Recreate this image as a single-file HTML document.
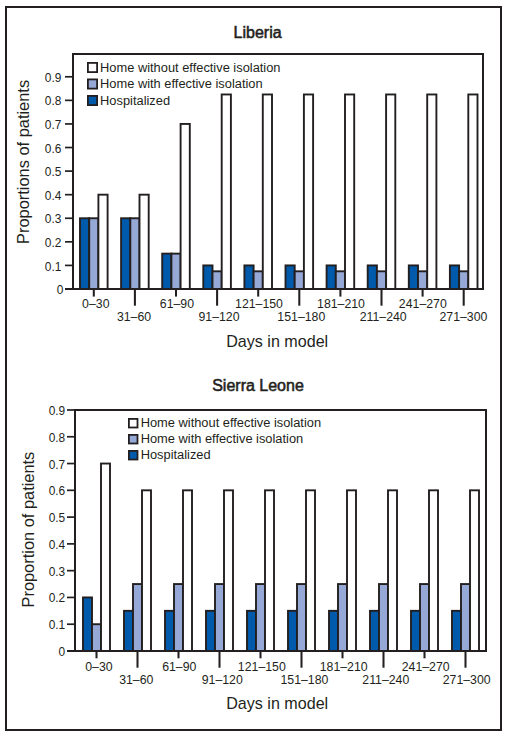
<!DOCTYPE html>
<html><head><meta charset="utf-8"><style>
html,body{margin:0;padding:0;background:#fff;}
svg{display:block;}
text{font-family:"Liberation Sans",sans-serif;fill:#231f20;}
.t{font-size:12.3px;}
.yt{font-size:11.9px;}
.lg{font-size:12.85px;}
.ti{font-size:16px;stroke:#231f20;stroke-width:0.55px;}
.ax{font-size:16.1px;}
.yl{font-size:16.4px;}
</style></head><body>
<svg width="509" height="741" viewBox="0 0 509 741">
<rect x="0" y="0" width="509" height="741" fill="#fff"/>
<rect x="6" y="7" width="495" height="723" fill="none" stroke="#231f20" stroke-width="2"/>
<rect x="80.00" y="218.26" width="9.20" height="70.74" fill="#005aab" stroke="#231f20" stroke-width="1.9"/>
<rect x="89.20" y="218.26" width="9.20" height="70.74" fill="#96a9d6" stroke="#231f20" stroke-width="1.9"/>
<rect x="98.40" y="194.68" width="9.20" height="94.32" fill="#ffffff" stroke="#231f20" stroke-width="1.9"/>
<rect x="121.10" y="218.26" width="9.20" height="70.74" fill="#005aab" stroke="#231f20" stroke-width="1.9"/>
<rect x="130.30" y="218.26" width="9.20" height="70.74" fill="#96a9d6" stroke="#231f20" stroke-width="1.9"/>
<rect x="139.50" y="194.68" width="9.20" height="94.32" fill="#ffffff" stroke="#231f20" stroke-width="1.9"/>
<rect x="162.20" y="253.63" width="9.20" height="35.37" fill="#005aab" stroke="#231f20" stroke-width="1.9"/>
<rect x="171.40" y="253.63" width="9.20" height="35.37" fill="#96a9d6" stroke="#231f20" stroke-width="1.9"/>
<rect x="180.60" y="123.94" width="9.20" height="165.06" fill="#ffffff" stroke="#231f20" stroke-width="1.9"/>
<rect x="203.30" y="265.42" width="9.20" height="23.58" fill="#005aab" stroke="#231f20" stroke-width="1.9"/>
<rect x="212.50" y="271.31" width="9.20" height="17.69" fill="#96a9d6" stroke="#231f20" stroke-width="1.9"/>
<rect x="221.70" y="94.47" width="9.20" height="194.53" fill="#ffffff" stroke="#231f20" stroke-width="1.9"/>
<rect x="244.40" y="265.42" width="9.20" height="23.58" fill="#005aab" stroke="#231f20" stroke-width="1.9"/>
<rect x="253.60" y="271.31" width="9.20" height="17.69" fill="#96a9d6" stroke="#231f20" stroke-width="1.9"/>
<rect x="262.80" y="94.47" width="9.20" height="194.53" fill="#ffffff" stroke="#231f20" stroke-width="1.9"/>
<rect x="285.50" y="265.42" width="9.20" height="23.58" fill="#005aab" stroke="#231f20" stroke-width="1.9"/>
<rect x="294.70" y="271.31" width="9.20" height="17.69" fill="#96a9d6" stroke="#231f20" stroke-width="1.9"/>
<rect x="303.90" y="94.47" width="9.20" height="194.53" fill="#ffffff" stroke="#231f20" stroke-width="1.9"/>
<rect x="326.60" y="265.42" width="9.20" height="23.58" fill="#005aab" stroke="#231f20" stroke-width="1.9"/>
<rect x="335.80" y="271.31" width="9.20" height="17.69" fill="#96a9d6" stroke="#231f20" stroke-width="1.9"/>
<rect x="345.00" y="94.47" width="9.20" height="194.53" fill="#ffffff" stroke="#231f20" stroke-width="1.9"/>
<rect x="367.70" y="265.42" width="9.20" height="23.58" fill="#005aab" stroke="#231f20" stroke-width="1.9"/>
<rect x="376.90" y="271.31" width="9.20" height="17.69" fill="#96a9d6" stroke="#231f20" stroke-width="1.9"/>
<rect x="386.10" y="94.47" width="9.20" height="194.53" fill="#ffffff" stroke="#231f20" stroke-width="1.9"/>
<rect x="408.80" y="265.42" width="9.20" height="23.58" fill="#005aab" stroke="#231f20" stroke-width="1.9"/>
<rect x="418.00" y="271.31" width="9.20" height="17.69" fill="#96a9d6" stroke="#231f20" stroke-width="1.9"/>
<rect x="427.20" y="94.47" width="9.20" height="194.53" fill="#ffffff" stroke="#231f20" stroke-width="1.9"/>
<rect x="449.90" y="265.42" width="9.20" height="23.58" fill="#005aab" stroke="#231f20" stroke-width="1.9"/>
<rect x="459.10" y="271.31" width="9.20" height="17.69" fill="#96a9d6" stroke="#231f20" stroke-width="1.9"/>
<rect x="468.30" y="94.47" width="9.20" height="194.53" fill="#ffffff" stroke="#231f20" stroke-width="1.9"/>
<path d="M73.00,289.00 V54.00 H483.00 V289.00" fill="none" stroke="#231f20" stroke-width="2" stroke-linejoin="miter" stroke-linecap="square"/>
<line x1="65.00" y1="289.00" x2="484.00" y2="289.00" stroke="#231f20" stroke-width="2"/>
<line x1="65.00" y1="289.00" x2="73.00" y2="289.00" stroke="#231f20" stroke-width="1.7"/>
<text x="63.30" y="294.10" text-anchor="end" class="yt">0</text>
<line x1="65.00" y1="265.42" x2="73.00" y2="265.42" stroke="#231f20" stroke-width="1.7"/>
<text x="61.30" y="270.52" text-anchor="end" class="yt">0.1</text>
<line x1="65.00" y1="241.84" x2="73.00" y2="241.84" stroke="#231f20" stroke-width="1.7"/>
<text x="61.30" y="246.94" text-anchor="end" class="yt">0.2</text>
<line x1="65.00" y1="218.26" x2="73.00" y2="218.26" stroke="#231f20" stroke-width="1.7"/>
<text x="61.30" y="223.36" text-anchor="end" class="yt">0.3</text>
<line x1="65.00" y1="194.68" x2="73.00" y2="194.68" stroke="#231f20" stroke-width="1.7"/>
<text x="61.30" y="199.78" text-anchor="end" class="yt">0.4</text>
<line x1="65.00" y1="171.10" x2="73.00" y2="171.10" stroke="#231f20" stroke-width="1.7"/>
<text x="61.30" y="176.20" text-anchor="end" class="yt">0.5</text>
<line x1="65.00" y1="147.52" x2="73.00" y2="147.52" stroke="#231f20" stroke-width="1.7"/>
<text x="61.30" y="152.62" text-anchor="end" class="yt">0.6</text>
<line x1="65.00" y1="123.94" x2="73.00" y2="123.94" stroke="#231f20" stroke-width="1.7"/>
<text x="61.30" y="129.04" text-anchor="end" class="yt">0.7</text>
<line x1="65.00" y1="100.36" x2="73.00" y2="100.36" stroke="#231f20" stroke-width="1.7"/>
<text x="61.30" y="105.46" text-anchor="end" class="yt">0.8</text>
<line x1="65.00" y1="76.78" x2="73.00" y2="76.78" stroke="#231f20" stroke-width="1.7"/>
<text x="61.30" y="81.88" text-anchor="end" class="yt">0.9</text>
<line x1="93.80" y1="289.00" x2="93.80" y2="296.60" stroke="#231f20" stroke-width="2.05"/>
<text x="95.80" y="308.00" text-anchor="middle" class="t">0–30</text>
<line x1="134.90" y1="289.00" x2="134.90" y2="305.70" stroke="#231f20" stroke-width="2.05"/>
<text x="134.00" y="320.80" text-anchor="middle" class="t">31–60</text>
<line x1="176.00" y1="289.00" x2="176.00" y2="296.60" stroke="#231f20" stroke-width="2.05"/>
<text x="176.90" y="308.00" text-anchor="middle" class="t">61–90</text>
<line x1="217.10" y1="289.00" x2="217.10" y2="305.70" stroke="#231f20" stroke-width="2.05"/>
<text x="219.00" y="320.80" text-anchor="middle" class="t">91–120</text>
<line x1="258.20" y1="289.00" x2="258.20" y2="296.60" stroke="#231f20" stroke-width="2.05"/>
<text x="259.00" y="308.00" text-anchor="middle" class="t">121–150</text>
<line x1="299.30" y1="289.00" x2="299.30" y2="305.70" stroke="#231f20" stroke-width="2.05"/>
<text x="301.30" y="320.80" text-anchor="middle" class="t">151–180</text>
<line x1="340.40" y1="289.00" x2="340.40" y2="296.60" stroke="#231f20" stroke-width="2.05"/>
<text x="341.00" y="308.00" text-anchor="middle" class="t">181–210</text>
<line x1="381.50" y1="289.00" x2="381.50" y2="305.70" stroke="#231f20" stroke-width="2.05"/>
<text x="383.20" y="320.80" text-anchor="middle" class="t">211–240</text>
<line x1="422.60" y1="289.00" x2="422.60" y2="296.60" stroke="#231f20" stroke-width="2.05"/>
<text x="422.80" y="308.00" text-anchor="middle" class="t">241–270</text>
<line x1="463.70" y1="289.00" x2="463.70" y2="305.70" stroke="#231f20" stroke-width="2.05"/>
<text x="463.40" y="320.80" text-anchor="middle" class="t">271–300</text>
<rect x="87.90" y="62.90" width="9.20" height="9.20" fill="#ffffff" stroke="#231f20" stroke-width="1.8"/>
<text x="100.10" y="71.80" class="lg">Home without effective isolation</text>
<rect x="87.90" y="79.40" width="9.20" height="9.20" fill="#96a9d6" stroke="#231f20" stroke-width="1.8"/>
<text x="100.10" y="88.30" class="lg">Home with effective isolation</text>
<rect x="87.90" y="95.90" width="9.20" height="9.20" fill="#005aab" stroke="#231f20" stroke-width="1.8"/>
<text x="100.10" y="104.80" class="lg">Hospitalized</text>
<text x="257.60" y="37.60" text-anchor="middle" class="ti">Liberia</text>
<text x="277.20" y="346.80" text-anchor="middle" class="ax">Days in model</text>
<text transform="translate(29.10,161.90) rotate(-90)" text-anchor="middle" class="yl">Proportions of patients</text>
<rect x="83.00" y="597.44" width="9.00" height="53.56" fill="#005aab" stroke="#231f20" stroke-width="1.9"/>
<rect x="92.00" y="624.22" width="9.00" height="26.78" fill="#96a9d6" stroke="#231f20" stroke-width="1.9"/>
<rect x="101.00" y="463.54" width="9.00" height="187.46" fill="#ffffff" stroke="#231f20" stroke-width="1.9"/>
<rect x="124.00" y="610.83" width="9.00" height="40.17" fill="#005aab" stroke="#231f20" stroke-width="1.9"/>
<rect x="133.00" y="584.05" width="9.00" height="66.95" fill="#96a9d6" stroke="#231f20" stroke-width="1.9"/>
<rect x="142.00" y="490.32" width="9.00" height="160.68" fill="#ffffff" stroke="#231f20" stroke-width="1.9"/>
<rect x="165.00" y="610.83" width="9.00" height="40.17" fill="#005aab" stroke="#231f20" stroke-width="1.9"/>
<rect x="174.00" y="584.05" width="9.00" height="66.95" fill="#96a9d6" stroke="#231f20" stroke-width="1.9"/>
<rect x="183.00" y="490.32" width="9.00" height="160.68" fill="#ffffff" stroke="#231f20" stroke-width="1.9"/>
<rect x="206.00" y="610.83" width="9.00" height="40.17" fill="#005aab" stroke="#231f20" stroke-width="1.9"/>
<rect x="215.00" y="584.05" width="9.00" height="66.95" fill="#96a9d6" stroke="#231f20" stroke-width="1.9"/>
<rect x="224.00" y="490.32" width="9.00" height="160.68" fill="#ffffff" stroke="#231f20" stroke-width="1.9"/>
<rect x="247.00" y="610.83" width="9.00" height="40.17" fill="#005aab" stroke="#231f20" stroke-width="1.9"/>
<rect x="256.00" y="584.05" width="9.00" height="66.95" fill="#96a9d6" stroke="#231f20" stroke-width="1.9"/>
<rect x="265.00" y="490.32" width="9.00" height="160.68" fill="#ffffff" stroke="#231f20" stroke-width="1.9"/>
<rect x="288.00" y="610.83" width="9.00" height="40.17" fill="#005aab" stroke="#231f20" stroke-width="1.9"/>
<rect x="297.00" y="584.05" width="9.00" height="66.95" fill="#96a9d6" stroke="#231f20" stroke-width="1.9"/>
<rect x="306.00" y="490.32" width="9.00" height="160.68" fill="#ffffff" stroke="#231f20" stroke-width="1.9"/>
<rect x="329.00" y="610.83" width="9.00" height="40.17" fill="#005aab" stroke="#231f20" stroke-width="1.9"/>
<rect x="338.00" y="584.05" width="9.00" height="66.95" fill="#96a9d6" stroke="#231f20" stroke-width="1.9"/>
<rect x="347.00" y="490.32" width="9.00" height="160.68" fill="#ffffff" stroke="#231f20" stroke-width="1.9"/>
<rect x="370.00" y="610.83" width="9.00" height="40.17" fill="#005aab" stroke="#231f20" stroke-width="1.9"/>
<rect x="379.00" y="584.05" width="9.00" height="66.95" fill="#96a9d6" stroke="#231f20" stroke-width="1.9"/>
<rect x="388.00" y="490.32" width="9.00" height="160.68" fill="#ffffff" stroke="#231f20" stroke-width="1.9"/>
<rect x="411.00" y="610.83" width="9.00" height="40.17" fill="#005aab" stroke="#231f20" stroke-width="1.9"/>
<rect x="420.00" y="584.05" width="9.00" height="66.95" fill="#96a9d6" stroke="#231f20" stroke-width="1.9"/>
<rect x="429.00" y="490.32" width="9.00" height="160.68" fill="#ffffff" stroke="#231f20" stroke-width="1.9"/>
<rect x="452.00" y="610.83" width="9.00" height="40.17" fill="#005aab" stroke="#231f20" stroke-width="1.9"/>
<rect x="461.00" y="584.05" width="9.00" height="66.95" fill="#96a9d6" stroke="#231f20" stroke-width="1.9"/>
<rect x="470.00" y="490.32" width="9.00" height="160.68" fill="#ffffff" stroke="#231f20" stroke-width="1.9"/>
<path d="M75.00,651.00 V410.00 H486.00 V651.00" fill="none" stroke="#231f20" stroke-width="2" stroke-linejoin="miter" stroke-linecap="square"/>
<line x1="67.00" y1="651.00" x2="487.00" y2="651.00" stroke="#231f20" stroke-width="2"/>
<line x1="67.00" y1="651.00" x2="75.00" y2="651.00" stroke="#231f20" stroke-width="1.7"/>
<text x="65.20" y="656.00" text-anchor="end" class="yt">0</text>
<line x1="67.00" y1="624.22" x2="75.00" y2="624.22" stroke="#231f20" stroke-width="1.7"/>
<text x="65.20" y="629.22" text-anchor="end" class="yt">0.1</text>
<line x1="67.00" y1="597.44" x2="75.00" y2="597.44" stroke="#231f20" stroke-width="1.7"/>
<text x="65.20" y="602.44" text-anchor="end" class="yt">0.2</text>
<line x1="67.00" y1="570.66" x2="75.00" y2="570.66" stroke="#231f20" stroke-width="1.7"/>
<text x="65.20" y="575.66" text-anchor="end" class="yt">0.3</text>
<line x1="67.00" y1="543.88" x2="75.00" y2="543.88" stroke="#231f20" stroke-width="1.7"/>
<text x="65.20" y="548.88" text-anchor="end" class="yt">0.4</text>
<line x1="67.00" y1="517.10" x2="75.00" y2="517.10" stroke="#231f20" stroke-width="1.7"/>
<text x="65.20" y="522.10" text-anchor="end" class="yt">0.5</text>
<line x1="67.00" y1="490.32" x2="75.00" y2="490.32" stroke="#231f20" stroke-width="1.7"/>
<text x="65.20" y="495.32" text-anchor="end" class="yt">0.6</text>
<line x1="67.00" y1="463.54" x2="75.00" y2="463.54" stroke="#231f20" stroke-width="1.7"/>
<text x="65.20" y="468.54" text-anchor="end" class="yt">0.7</text>
<line x1="67.00" y1="436.76" x2="75.00" y2="436.76" stroke="#231f20" stroke-width="1.7"/>
<text x="65.20" y="441.76" text-anchor="end" class="yt">0.8</text>
<line x1="67.00" y1="409.98" x2="75.00" y2="409.98" stroke="#231f20" stroke-width="1.7"/>
<text x="65.20" y="414.98" text-anchor="end" class="yt">0.9</text>
<line x1="96.50" y1="651.00" x2="96.50" y2="658.30" stroke="#231f20" stroke-width="2.05"/>
<text x="98.90" y="671.00" text-anchor="middle" class="t">0–30</text>
<line x1="137.50" y1="651.00" x2="137.50" y2="667.70" stroke="#231f20" stroke-width="2.05"/>
<text x="136.30" y="684.20" text-anchor="middle" class="t">31–60</text>
<line x1="178.50" y1="651.00" x2="178.50" y2="658.30" stroke="#231f20" stroke-width="2.05"/>
<text x="179.30" y="671.00" text-anchor="middle" class="t">61–90</text>
<line x1="219.50" y1="651.00" x2="219.50" y2="667.70" stroke="#231f20" stroke-width="2.05"/>
<text x="222.30" y="684.20" text-anchor="middle" class="t">91–120</text>
<line x1="260.50" y1="651.00" x2="260.50" y2="658.30" stroke="#231f20" stroke-width="2.05"/>
<text x="261.80" y="671.00" text-anchor="middle" class="t">121–150</text>
<line x1="301.50" y1="651.00" x2="301.50" y2="667.70" stroke="#231f20" stroke-width="2.05"/>
<text x="304.40" y="684.20" text-anchor="middle" class="t">151–180</text>
<line x1="342.50" y1="651.00" x2="342.50" y2="658.30" stroke="#231f20" stroke-width="2.05"/>
<text x="343.70" y="671.00" text-anchor="middle" class="t">181–210</text>
<line x1="383.50" y1="651.00" x2="383.50" y2="667.70" stroke="#231f20" stroke-width="2.05"/>
<text x="385.80" y="684.20" text-anchor="middle" class="t">211–240</text>
<line x1="424.50" y1="651.00" x2="424.50" y2="658.30" stroke="#231f20" stroke-width="2.05"/>
<text x="425.70" y="671.00" text-anchor="middle" class="t">241–270</text>
<line x1="465.50" y1="651.00" x2="465.50" y2="667.70" stroke="#231f20" stroke-width="2.05"/>
<text x="466.70" y="684.20" text-anchor="middle" class="t">271–300</text>
<rect x="128.90" y="418.90" width="8.60" height="8.60" fill="#ffffff" stroke="#231f20" stroke-width="1.8"/>
<text x="140.70" y="426.60" class="lg">Home without effective isolation</text>
<rect x="128.90" y="434.90" width="8.60" height="8.60" fill="#96a9d6" stroke="#231f20" stroke-width="1.8"/>
<text x="140.70" y="442.60" class="lg">Home with effective isolation</text>
<rect x="128.90" y="450.90" width="8.60" height="8.60" fill="#005aab" stroke="#231f20" stroke-width="1.8"/>
<text x="140.70" y="458.60" class="lg">Hospitalized</text>
<text x="258.00" y="390.90" text-anchor="middle" class="ti">Sierra Leone</text>
<text x="277.20" y="708.60" text-anchor="middle" class="ax">Days in model</text>
<text transform="translate(34.20,529.60) rotate(-90)" text-anchor="middle" class="yl">Proportion of patients</text>
</svg>
</body></html>
